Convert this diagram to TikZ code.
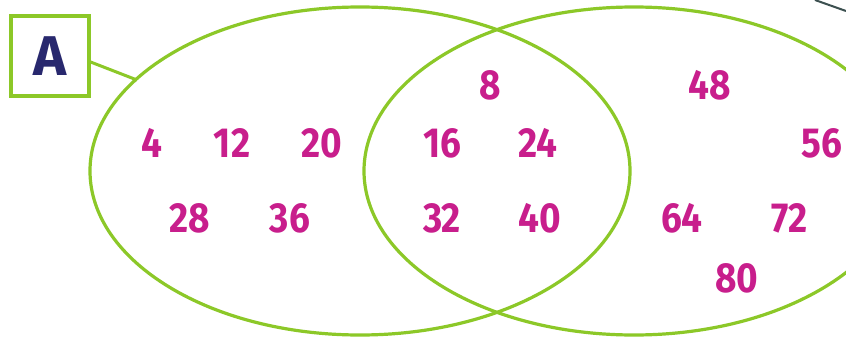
\documentclass[tikz,border=0pt]{standalone}
\usepackage{fontspec}
\setmainfont{Fira Sans}
\newfontfamily\numfont[FakeStretch=0.88]{Fira Sans}
\definecolor{vgreen}{RGB}{140,200,40}
\definecolor{vmag}{RGB}{200,30,140}
\definecolor{vnavy}{RGB}{40,40,110}
\definecolor{vdark}{RGB}{60,80,80}
\begin{document}
\begin{tikzpicture}[x=1pt,y=-1pt,
  setline/.style={draw=vgreen,line width=3.2pt},
  num/.style={text=vmag,font=\numfont\bfseries\fontsize{42}{42}\selectfont,inner sep=0pt,anchor=center},
  labelbox/.style={draw=vgreen,line width=3.2pt,minimum width=78pt,minimum height=80pt,inner sep=0pt,text=vnavy,font=\bfseries\fontsize{56}{56}\selectfont}]
\useasboundingbox (0,0) rectangle (846,337);
\fill[white] (0,0) rectangle (846,337);
% ellipses
\draw[setline] (360,171) ellipse [x radius=270pt, y radius=164pt];
\draw[setline] (634,171) ellipse [x radius=270pt, y radius=164pt];
% label box
\node[labelbox] (A) at (50,56) {A};
\coordinate (Aend) at (137,80);
\draw[vgreen,line width=3pt] (A.east |- 0,62) -- (Aend);
% partial dark stroke at top right
\coordinate (d1) at (815,0);
\coordinate (d2) at (846,11);
\draw[vdark,line width=2pt] (d1) -- (d2);
% numbers
\node[num] (n4) at (152,143) {4};
\node[num] (n12) at (232,143) {12};
\node[num] (n20) at (322,143) {20};
\node[num] (n28) at (190,218) {28};
\node[num] (n36) at (290,218) {36};
\node[num] (n8) at (490,85) {8};
\node[num] (n16) at (442,143) {16};
\node[num] (n24) at (538,143) {24};
\node[num] (n32) at (442,218) {32};
\node[num] (n40) at (540,218) {40};
\node[num] (n48) at (710,85) {48};
\node[num] (n56) at (822,143) {56};
\node[num] (n64) at (682,218) {64};
\node[num] (n72) at (790,218) {72};
\node[num] (n80) at (737,278) {80};
\end{tikzpicture}
\end{document}
